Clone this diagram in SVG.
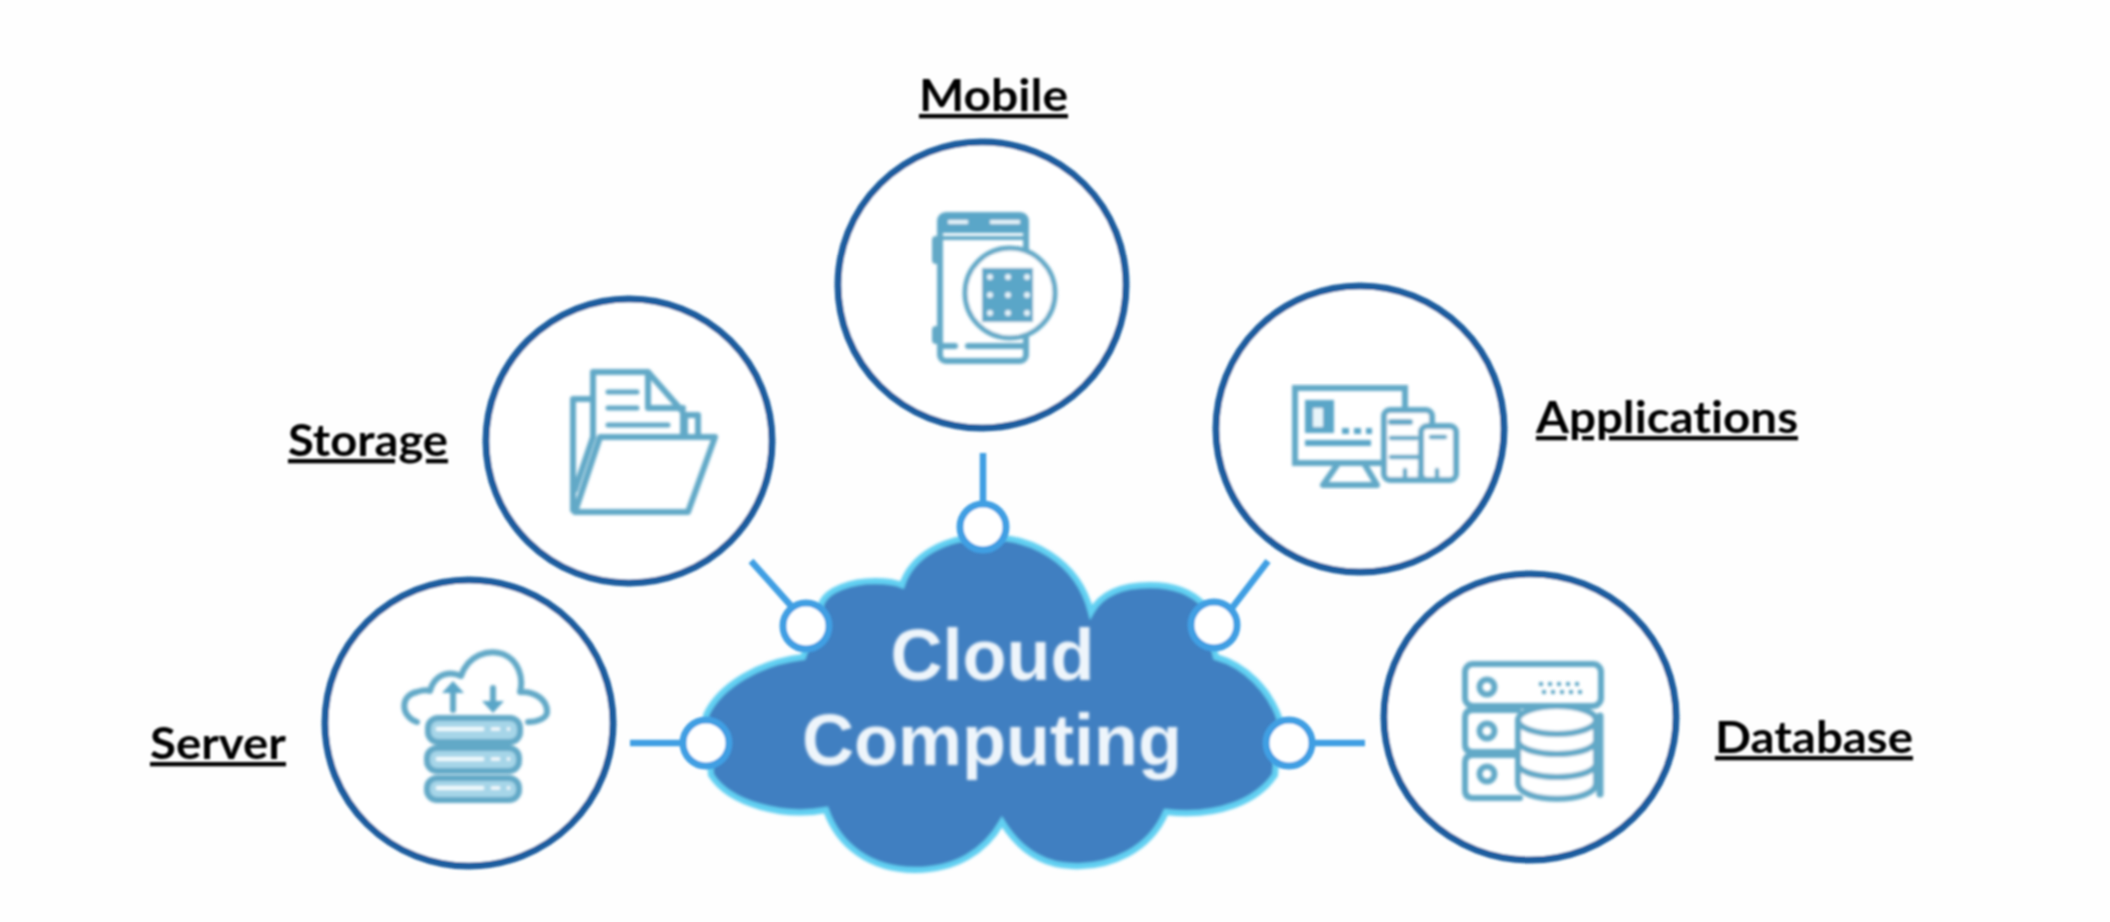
<svg xmlns="http://www.w3.org/2000/svg" width="2110" height="922" viewBox="0 0 2110 922">
<defs>
<filter id="soft" x="-5%" y="-5%" width="110%" height="110%"><feGaussianBlur stdDeviation="0.9"/></filter>
<filter id="softer" x="-5%" y="-5%" width="110%" height="110%"><feGaussianBlur stdDeviation="1.4"/></filter>
</defs>
<style>
.ring{fill:#fff;stroke:#1f5d9f;stroke-width:7}
.label{font-family:"Lato","Liberation Sans",sans-serif;font-weight:700;font-size:43px;fill:#050505;text-decoration:underline;font-variant-ligatures:none}
.ic{fill:none;stroke:#62a9c7;stroke-width:6;stroke-linejoin:round;stroke-linecap:round}
.icw{fill:#fff;stroke:#62a9c7;stroke-width:6;stroke-linejoin:round}
.icf{fill:#5aa6c8}
.wh{fill:#e6f4fa}
.lt{fill:#a6d5e8;stroke:#62a9c7;stroke-width:6}
.conn{stroke:#3f9fe3;stroke-width:6.5;fill:none}
.hub{fill:#fff;stroke:#3f9fe3;stroke-width:7}
.ct{font-family:"Liberation Sans",Arial,sans-serif;font-weight:700;font-size:72px;fill:#eef5fb;text-anchor:middle}
</style>
<rect width="2110" height="922" fill="#fefefe"/>

<g id="cloud">
<path filter="url(#softer)" d="M983 537C1030 535 1078 560 1091 612C1102 592 1125 585 1150 585C1175 585 1192 592 1204 605L1216 657C1245 665 1270 690 1280 720L1275 775C1258 800 1220 818 1166 812C1150 850 1110 868 1072 866C1040 865 1018 848 1002 822C985 852 955 870 915 870C870 870 838 845 826 810C785 818 730 805 711 775L706 715C720 685 760 662 803 657L822 602C828 590 850 581 875 581C885 581 895 582 902 585C912 555 945 537 983 537Z" fill="#3f7fc1" stroke="#62d0f2" stroke-width="6"/>
<g filter="url(#softer)">
<text class="ct" x="992.5" y="680">Cloud</text>
<text class="ct" x="992" y="765">Computing</text>
</g>
</g>

<g id="connectors" filter="url(#soft)">
<line class="conn" x1="983" y1="453" x2="983" y2="505"/>
<line class="conn" x1="751" y1="561" x2="793" y2="608"/>
<line class="conn" x1="1268" y1="561" x2="1232" y2="608"/>
<line class="conn" x1="630" y1="743" x2="685" y2="743"/>
<line class="conn" x1="1310" y1="743" x2="1365" y2="743"/>
<circle class="hub" cx="983" cy="527" r="23"/>
<circle class="hub" cx="806" cy="626" r="23"/>
<circle class="hub" cx="1214" cy="625" r="23"/>
<circle class="hub" cx="706" cy="743" r="23"/>
<circle class="hub" cx="1289" cy="743" r="23"/>
</g>

<g id="mobile">
<ellipse class="ring" cx="982" cy="285" rx="144" ry="143" filter="url(#soft)"/>
<g filter="url(#softer)">
<rect class="ic" x="940" y="215" width="86" height="146" rx="6"/>
<rect class="icf" x="938" y="213" width="90" height="20" rx="6"/>
<rect class="wh" x="948" y="220" width="20" height="4"/><rect class="wh" x="990" y="220" width="30" height="4"/>
<line class="ic" x1="940" y1="238" x2="1026" y2="238" style="stroke-width:4"/>
<path class="ic" d="M936 240V260M936 330V340" style="stroke-width:8"/>
<path class="ic" d="M940 346H955M968 346H1026"/>
<circle class="icw" cx="1010" cy="293" r="45" style="stroke-width:5"/>
<rect class="icf" x="982" y="268" width="51" height="54"/>
<g class="wh"><circle cx="990" cy="277" r="3"/><circle cx="1008" cy="277" r="3"/><circle cx="1027" cy="277" r="3"/><circle cx="990" cy="295" r="3"/><circle cx="1008" cy="295" r="3"/><circle cx="1027" cy="295" r="3"/><circle cx="990" cy="313" r="3"/><circle cx="1008" cy="313" r="3"/><circle cx="1027" cy="313" r="3"/></g>
</g>
<text class="label" x="919" y="111" textLength="149" lengthAdjust="spacingAndGlyphs" filter="url(#soft)">Mobile</text>
</g>

<g id="storage">
<ellipse class="ring" cx="629" cy="441" rx="143" ry="142" filter="url(#soft)"/>
<g filter="url(#softer)">
<path class="ic" d="M593 399H573V510"/>
<path class="ic" d="M593 437V372H648L683 412V436M648 372V408H683"/>
<path class="ic" d="M608 392H637M608 408H637M608 425H668" style="stroke-width:5"/>
<path class="ic" d="M685 436V415H698V436"/>
<path class="ic" d="M593 437L575 490"/>
<path class="ic" d="M600 437H715L688 512H575Z"/>
</g>
<text class="label" x="288" y="456" textLength="160" lengthAdjust="spacingAndGlyphs" filter="url(#soft)">Storage</text>
</g>

<g id="server">
<ellipse class="ring" cx="469" cy="723" rx="144" ry="143" filter="url(#soft)"/>
<g filter="url(#softer)">
<path class="ic" d="M417 722C400 716 400 695 417 692C423 690 427 690 430 691C434 675 448 670 461 676C468 655 488 649 503 654C518 660 524 677 520 692C535 691 548 700 547 713C546 718 538 722 528 722"/>
<path class="ic" d="M453 710V688"/><path class="icf" d="M442 693L453 681L464 693Z"/>
<path class="ic" d="M493 688V706"/><path class="icf" d="M482 701L493 713L504 701Z"/>
<rect class="lt" x="428" y="718" width="92" height="24" rx="10"/>
<rect class="lt" x="427" y="748" width="92" height="23" rx="10"/>
<rect class="lt" x="427" y="778" width="92" height="22" rx="10"/>
<path d="M436 729H484M436 759H484M436 788H484" stroke="#f2fafd" stroke-width="4" fill="none"/>
<path d="M491 729H500M507 729H510M491 759H500M507 759H510M491 788H500M507 788H510" stroke="#fff" stroke-width="3" fill="none"/>
</g>
<text class="label" x="150" y="759" textLength="136" lengthAdjust="spacingAndGlyphs" filter="url(#soft)">Server</text>
</g>

<g id="applications">
<ellipse class="ring" cx="1360" cy="429" rx="144" ry="143" filter="url(#soft)"/>
<g filter="url(#softer)">
<rect class="ic" x="1295" y="388" width="110" height="75" style="stroke-linejoin:miter"/>
<rect class="icf" x="1305" y="400" width="29" height="33"/>
<rect x="1313" y="408" width="10" height="19" fill="#e8f5fa"/>
<g class="icf"><rect x="1342" y="428" width="7" height="6"/><rect x="1354" y="428" width="7" height="6"/><rect x="1366" y="428" width="6" height="6"/><rect x="1305" y="440" width="66" height="6"/></g>
<path class="ic" d="M1337 465L1323 485H1377L1365 465"/>
<rect class="icw" x="1384" y="410" width="48" height="70" rx="6"/>
<path class="ic" d="M1391 422H1410"/>
<path class="ic" d="M1391 438H1416M1391 457H1420" style="stroke-width:4.5"/>
<path class="ic" d="M1405 478V470M1420 478V470" style="stroke-width:4.5"/>
<rect class="icw" x="1421" y="426" width="35" height="54" rx="6"/>
<path class="ic" d="M1431 437H1445M1437 478V470" style="stroke-width:4.5"/>
</g>
<text class="label" x="1536" y="433" textLength="262" lengthAdjust="spacingAndGlyphs" filter="url(#soft)">Applications</text>
</g>

<g id="database">
<ellipse class="ring" cx="1530" cy="717" rx="146" ry="143" filter="url(#soft)"/>
<g filter="url(#softer)">
<rect class="ic" x="1465" y="664" width="136" height="42" rx="8"/>
<path class="ic" d="M1518 710H1473Q1465 710 1465 718V744Q1465 752 1473 752H1518M1518 755H1473Q1465 755 1465 763V790Q1465 798 1473 798H1520"/>
<circle class="ic" cx="1487" cy="687" r="7.5"/><circle class="ic" cx="1487" cy="731" r="7.5"/><circle class="ic" cx="1487" cy="774" r="7.5"/>
<path d="M1539 684H1582M1542 692H1585" stroke="#62a9c7" stroke-width="4" stroke-dasharray="4 5" fill="none"/>
<path class="icw" d="M1518 720V783C1518 804 1596 804 1596 783V720Z"/>
<ellipse class="icw" cx="1557" cy="720" rx="39" ry="14"/>
<path class="ic" d="M1518 742C1525 758 1589 758 1596 742M1518 765C1525 781 1589 781 1596 765"/>
<path class="ic" d="M1600 716V794" style="stroke-width:7"/>
</g>
<text class="label" x="1715" y="753" textLength="198" lengthAdjust="spacingAndGlyphs" filter="url(#soft)">Database</text>
</g>
</svg>
